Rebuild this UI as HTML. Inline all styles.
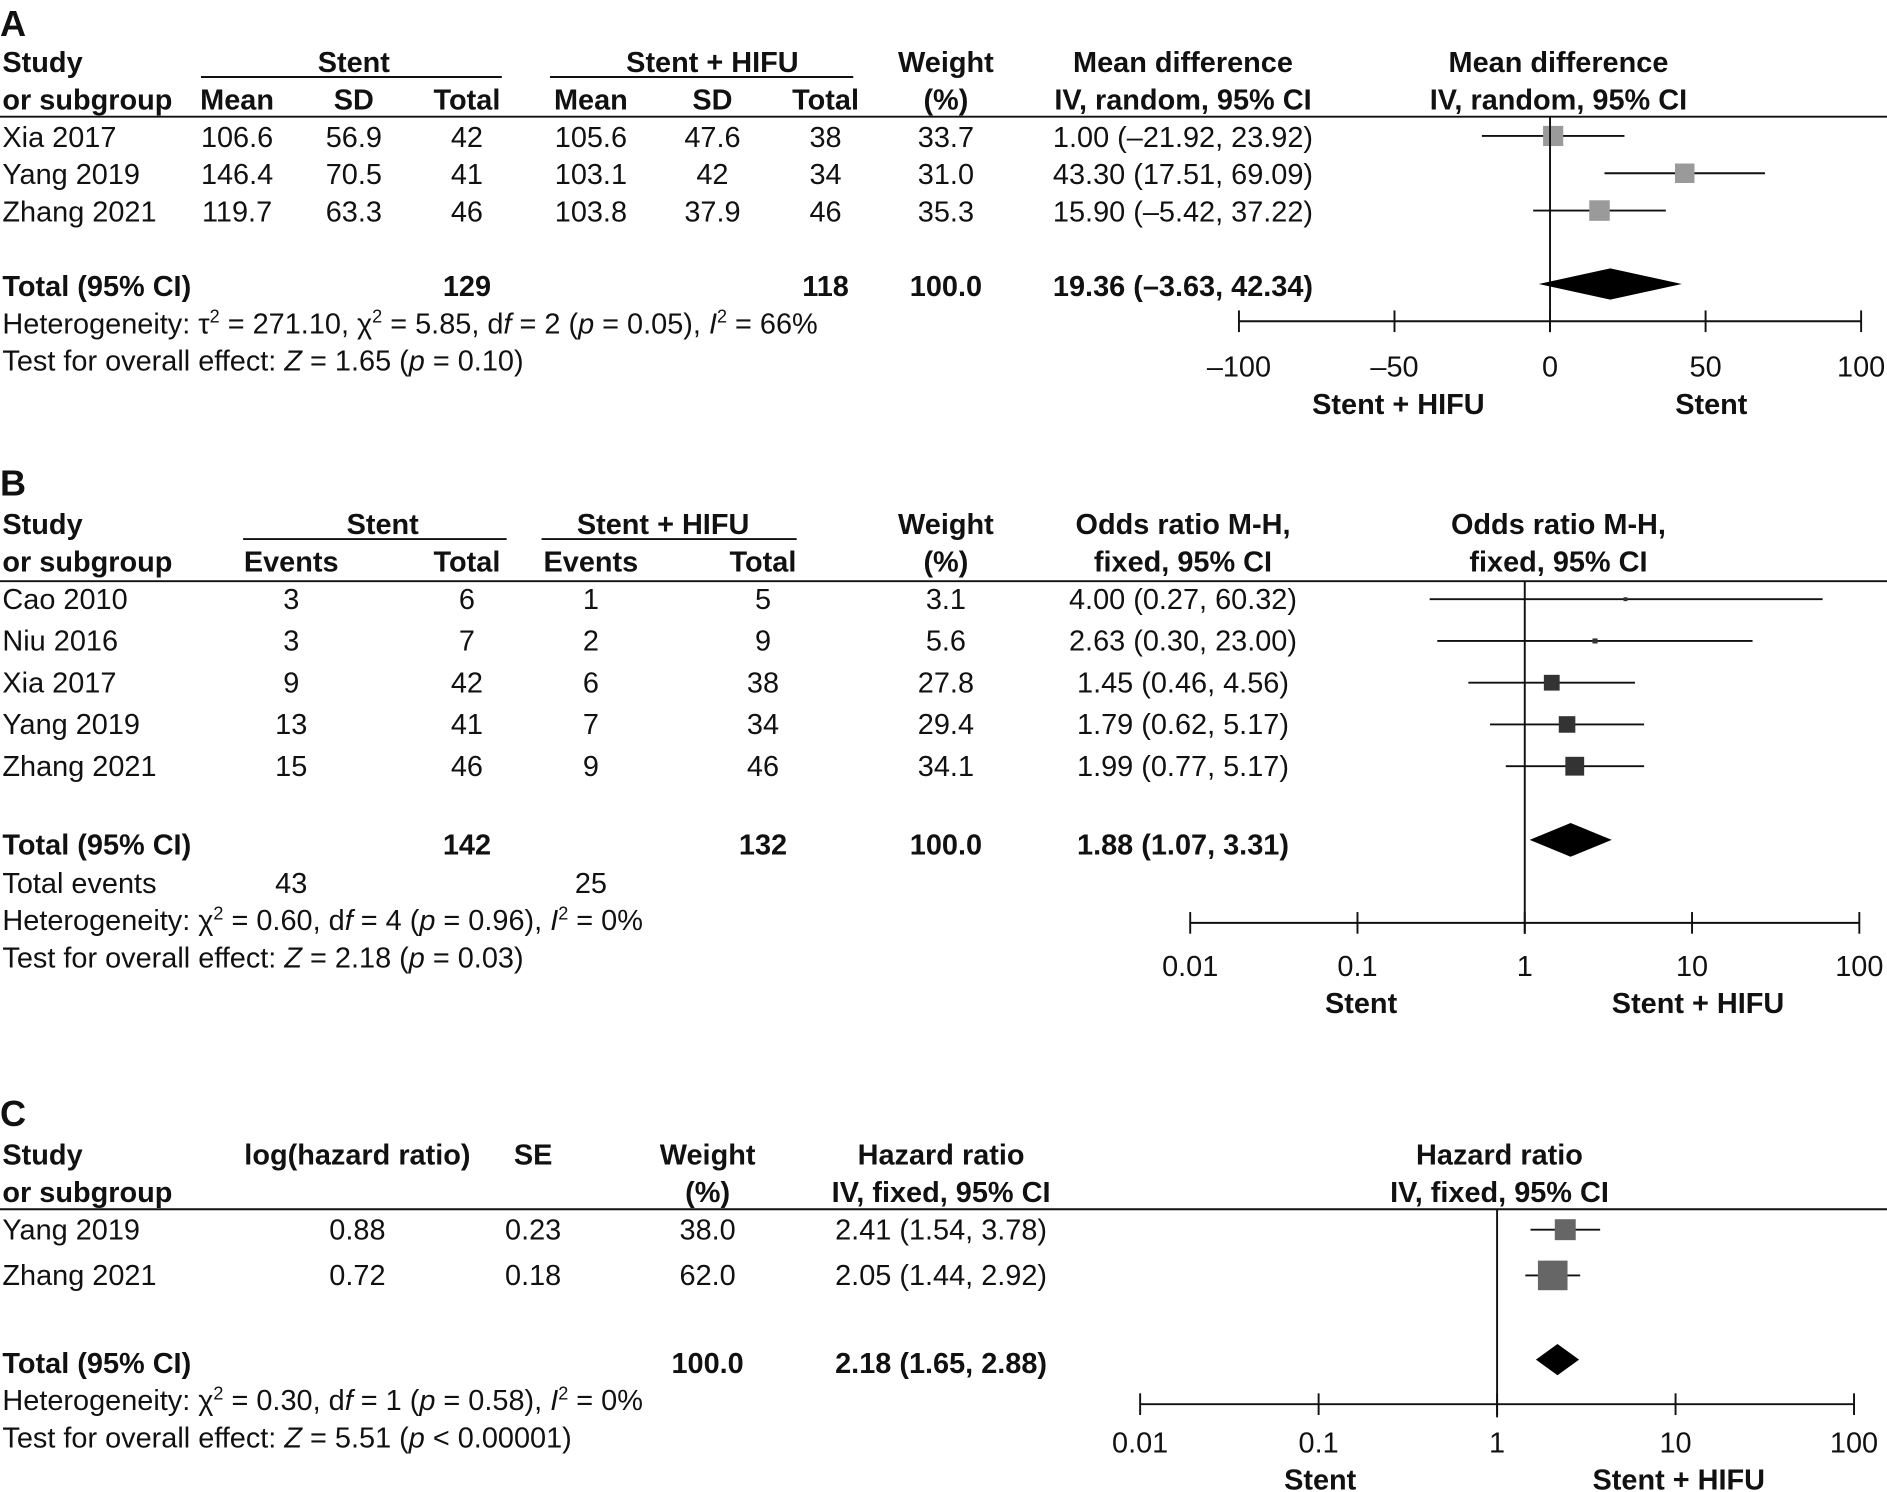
<!DOCTYPE html>
<html><head><meta charset="utf-8">
<style>
html,body{margin:0;padding:0;background:#fff;}
svg{display:block;}
text{font-family:"Liberation Sans",sans-serif;font-size:24px;fill:#111;}
.b{font-weight:bold;}
.p{font-weight:bold;font-size:30px;}
</style></head>
<body>
<svg id="fig" width="1887" height="1492" viewBox="0 0 1568 1240" preserveAspectRatio="none" xmlns="http://www.w3.org/2000/svg"></svg>
<script>
// ---- Panel A data ----
const aStudies=["Xia 2017","Yang 2019","Zhang 2021"];
const aStentMean=["106.6","146.4","119.7"];
const aStentSD=["56.9","70.5","63.3"];
const aStentN=["42","41","46"];
const aHifuMean=["105.6","103.1","103.8"];
const aHifuSD=["47.6","42","37.9"];
const aHifuN=["38","34","46"];
const aWeight=[33.7,31.0,35.3];
const aEst=[1.00,43.30,15.90];
const aLo=[-21.92,17.51,-5.42];
const aHi=[23.92,69.09,37.22];
const aTotal=[19.36,-3.63,42.34];
const aTicks=[-100,-50,0,50,100];
const aTickLabels=["\u2013100","\u201350","0","50","100"];
// ---- Panel B data ----
const bStudies=["Cao 2010","Niu 2016","Xia 2017","Yang 2019","Zhang 2021"];
const bStentEv=["3","3","9","13","15"];
const bStentN=["6","7","42","41","46"];
const bHifuEv=["1","2","6","7","9"];
const bHifuN=["5","9","38","34","46"];
const bWeight=[3.1,5.6,27.8,29.4,34.1];
const bEst=[4.00,2.63,1.45,1.79,1.99];
const bLo=[0.27,0.30,0.46,0.62,0.77];
const bHi=[60.32,23.00,4.56,5.17,5.17];
const bTotal=[1.88,1.07,3.31];
const bTicks=[0.01,0.1,1,10,100];
const bTickLabels=["0.01","0.1","1","10","100"];
// ---- Panel C data ----
const cStudies=["Yang 2019","Zhang 2021"];
const cLogHR=["0.88","0.72"];
const cSE=["0.23","0.18"];
const cWeight=[38.0,62.0];
const cEst=[2.41,2.05];
const cLo=[1.54,1.44];
const cHi=[3.78,2.92];
const cTotal=[2.18,1.65,2.88];
const cTicks=[0.01,0.1,1,10,100];
const cTickLabels=["0.01","0.1","1","10","100"];

const NS="http://www.w3.org/2000/svg";
const svg=document.getElementById('fig');
function mk(tag,attrs,parent){const e=document.createElementNS(NS,tag);for(const k in attrs)e.setAttribute(k,attrs[k]);(parent||svg).appendChild(e);return e;}
function T(x,y,s,anchor,cls,name){const t=mk('text',{x:x,y:y,'text-anchor':anchor||'start'});if(cls)t.setAttribute('class',cls);t.textContent=s;


return t;}
function L(x1,y1,x2,y2,name,w){const l=mk('line',{x1:x1,y1:y1,x2:x2,y2:y2,stroke:'#111','stroke-width':w||1.6});


return l;}
function rich(x,y,parts,name){const t=mk('text',{x:x,y:y});


parts.forEach(p=>{const s=mk('tspan',{},t);if(p[1]==='i')s.setAttribute('font-style','italic');if(p[1]==='sup'){s.setAttribute('font-size','15');s.setAttribute('dy','-9');}if(p[1]==='after'){s.setAttribute('dy','9');}s.textContent=p[0];});return t;}
function fmt(v,d){return (v<0?"\u2013":"")+Math.abs(v).toFixed(d);}
function ci(e,l,h){return e.toFixed(2)+" ("+fmt(l,2)+", "+fmt(h,2)+")";}
function axis(y,ticks,labels,sx,labY,name){L(sx(ticks[0]),y,sx(ticks[ticks.length-1]),y,name+'-line');
ticks.forEach((t,i)=>{L(sx(t),y-9,sx(t),y+9,name+'-tick');T(sx(t),labY,labels[i],'middle',null,name+'-tick-label');});}
function square(x,y,s,fill,name){const r=mk('rect',{x:x-s/2,y:y-s/2,width:s,height:s,fill:fill});

}
function diamond(x1,xm,x2,y,h,name){const p=mk('polygon',{points:`${x1},${y} ${xm},${y-h/2} ${x2},${y} ${xm},${y+h/2}`,fill:'#000'});

}

// ================= Panel A =================
T(0,30,"A","start","p","panel-a-label");
T(2,60,"Study","start","b","col-study");T(2,91,"or subgroup","start","b","col-subgroup");
T(294,60,"Stent","middle","b","group-stent");L(167,64,417,64,'group-underline');
T(592,60,"Stent + HIFU","middle","b","group-stent-hifu");L(457,64,709,64,'group-underline');
[["Mean",197],["SD",294],["Total",388],["Mean",491],["SD",592],["Total",686]].forEach(c=>T(c[1],91,c[0],'middle','b','col-header'));
T(786,60,"Weight","middle","b","col-weight");T(786,91,"(%)","middle","b","col-weight-unit");
T(983,60,"Mean difference","middle","b","col-md");T(983,91,"IV, random, 95% CI","middle","b","col-md-sub");
T(1295,60,"Mean difference","middle","b","plot-title");T(1295,91,"IV, random, 95% CI","middle","b","plot-subtitle");
L(0,97,1568,97,'header-rule');
const sxA=v=>1288+v*2.585;
aStudies.forEach((s,i)=>{const y=122+i*31;
T(2,y,s,'start',null,'study-name');T(197,y,aStentMean[i],'middle');T(294,y,aStentSD[i],'middle');T(388,y,aStentN[i],'middle');
T(491,y,aHifuMean[i],'middle');T(592,y,aHifuSD[i],'middle');T(686,y,aHifuN[i],'middle');T(786,y,aWeight[i].toFixed(1),'middle',null,'weight');
T(983,y,ci(aEst[i],aLo[i],aHi[i]),'middle',null,'ci-text');
const cy=y-9;L(sxA(aLo[i]),cy,sxA(aHi[i]),cy,'ci-line');square(sxA(aEst[i]),cy,10+aWeight[i]*0.2,'#9a9a9a','study-square');});
T(2,246,"Total (95% CI)",'start','b','total-label');T(388,246,"129",'middle','b');T(686,246,"118",'middle','b');T(786,246,"100.0",'middle','b');
T(983,246,ci(aTotal[0],aTotal[1],aTotal[2]),'middle','b','total-ci');
rich(2,277,[["Heterogeneity: \u03c4"],["2","sup"],[" = 271.10, \u03c7","after"],["2","sup"],[" = 5.85, d","after"],["f","i"],[" = 2 ("],["p","i"],[" = 0.05), "],["I","i"],["2","sup"],[" = 66%","after"]],'heterogeneity-a');
rich(2,308,[["Test for overall effect: "],["Z","i"],[" = 1.65 ("],["p","i"],[" = 0.10)"]],'overall-effect-a');
L(1288,97,1288,276,'null-line');
diamond(sxA(aTotal[1]),sxA(aTotal[0]),sxA(aTotal[2]),236,26,'total-diamond');
axis(267,aTicks,aTickLabels,sxA,313,'x-axis-a');
T(1162,344,"Stent + HIFU",'middle','b','favours-left');T(1422,344,"Stent",'middle','b','favours-right');

// ================= Panel B =================
T(0,412,"B","start","p","panel-b-label");
T(2,444,"Study","start","b","col-study");T(2,475,"or subgroup","start","b","col-subgroup");
T(318,444,"Stent","middle","b","group-stent");L(202,448,421,448,'group-underline');
T(551,444,"Stent + HIFU","middle","b","group-stent-hifu");L(450,448,662,448,'group-underline');
[["Events",242],["Total",388],["Events",491],["Total",634]].forEach(c=>T(c[1],475,c[0],'middle','b','col-header'));
T(786,444,"Weight","middle","b","col-weight");T(786,475,"(%)","middle","b","col-weight-unit");
T(983,444,"Odds ratio M-H,","middle","b","col-or");T(983,475,"fixed, 95% CI","middle","b","col-or-sub");
T(1295,444,"Odds ratio M-H,","middle","b","plot-title");T(1295,475,"fixed, 95% CI","middle","b","plot-subtitle");
L(0,483,1568,483,'header-rule');
const sxB=v=>1267+Math.log10(v)*139;
bStudies.forEach((s,i)=>{const y=506+i*34.7;
T(2,y,s,'start',null,'study-name');T(242,y,bStentEv[i],'middle');T(388,y,bStentN[i],'middle');T(491,y,bHifuEv[i],'middle');T(634,y,bHifuN[i],'middle');
T(786,y,bWeight[i].toFixed(1),'middle',null,'weight');
T(983,y,ci(bEst[i],bLo[i],bHi[i]),'middle',null,'ci-text');
const cy=y-8;L(sxB(bLo[i]),cy,sxB(bHi[i]),cy,'ci-line');square(sxB(bEst[i]),cy,2+bWeight[i]*0.4,'#333','study-square');});
T(2,710,"Total (95% CI)",'start','b','total-label');T(388,710,"142",'middle','b');T(634,710,"132",'middle','b');T(786,710,"100.0",'middle','b');
T(983,710,ci(bTotal[0],bTotal[1],bTotal[2]),'middle','b','total-ci');
T(2,742,"Total events",'start',null,'total-events-label');T(242,742,"43",'middle');T(491,742,"25",'middle');
rich(2,773,[["Heterogeneity: \u03c7"],["2","sup"],[" = 0.60, d","after"],["f","i"],[" = 4 ("],["p","i"],[" = 0.96), "],["I","i"],["2","sup"],[" = 0%","after"]],'heterogeneity-b');
rich(2,804,[["Test for overall effect: "],["Z","i"],[" = 2.18 ("],["p","i"],[" = 0.03)"]],'overall-effect-b');
L(1267,483,1267,776,'null-line');
diamond(sxB(bTotal[1]),sxB(bTotal[0]),sxB(bTotal[2]),698,28,'total-diamond');
axis(767,bTicks,bTickLabels,sxB,811,'x-axis-b');
T(1131,842,"Stent",'middle','b','favours-left');T(1411,842,"Stent + HIFU",'middle','b','favours-right');

// ================= Panel C =================
T(0,936,"C","start","p","panel-c-label");
T(2,968,"Study","start","b","col-study");T(2,999,"or subgroup","start","b","col-subgroup");
T(297,968,"log(hazard ratio)","middle","b","col-loghr");T(443,968,"SE","middle","b","col-se");
T(588,968,"Weight","middle","b","col-weight");T(588,999,"(%)","middle","b","col-weight-unit");
T(782,968,"Hazard ratio","middle","b","col-hr");T(782,999,"IV, fixed, 95% CI","middle","b","col-hr-sub");
T(1246,968,"Hazard ratio","middle","b","plot-title");T(1246,999,"IV, fixed, 95% CI","middle","b","plot-subtitle");
L(0,1005,1568,1005,'header-rule');
const sxC=v=>1244+Math.log10(v)*148.3;
cStudies.forEach((s,i)=>{const y=1030+i*38;
T(2,y,s,'start',null,'study-name');T(297,y,cLogHR[i],'middle');T(443,y,cSE[i],'middle');T(588,y,cWeight[i].toFixed(1),'middle',null,'weight');
T(782,y,ci(cEst[i],cLo[i],cHi[i]),'middle',null,'ci-text');
const cy=y-8;L(sxC(cLo[i]),cy,sxC(cHi[i]),cy,'ci-line');square(sxC(cEst[i]),cy,6+cWeight[i]*0.3,'#666','study-square');});
T(2,1141,"Total (95% CI)",'start','b','total-label');T(588,1141,"100.0",'middle','b');
T(782,1141,ci(cTotal[0],cTotal[1],cTotal[2]),'middle','b','total-ci');
rich(2,1172,[["Heterogeneity: \u03c7"],["2","sup"],[" = 0.30, d","after"],["f","i"],[" = 1 ("],["p","i"],[" = 0.58), "],["I","i"],["2","sup"],[" = 0%","after"]],'heterogeneity-c');
rich(2,1203,[["Test for overall effect: "],["Z","i"],[" = 5.51 ("],["p","i"],[" < 0.00001)"]],'overall-effect-c');
L(1244,1005,1244,1178,'null-line');
diamond(sxC(cTotal[1]),sxC(cTotal[0]),sxC(cTotal[2]),1130,26,'total-diamond');
axis(1167,cTicks,cTickLabels,sxC,1207,'x-axis-c');
T(1097,1238,"Stent",'middle','b','favours-left');T(1395,1238,"Stent + HIFU",'middle','b','favours-right');
</script>
</body></html>
